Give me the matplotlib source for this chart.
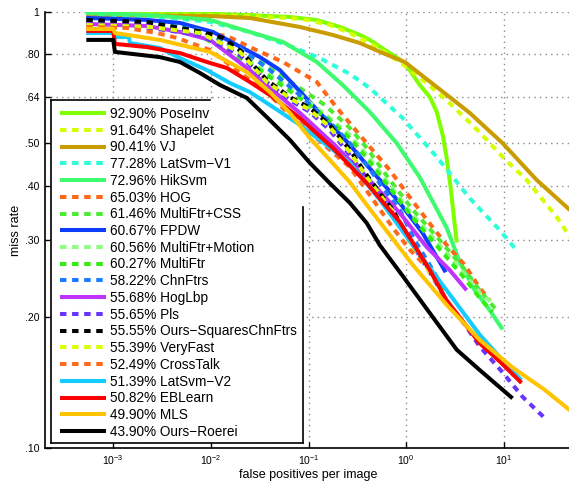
import matplotlib
matplotlib.use('Agg')
import matplotlib.pyplot as plt
from matplotlib.ticker import NullLocator, FixedLocator, FixedFormatter
from matplotlib.patches import Rectangle
from matplotlib.lines import Line2D

plt.rcParams['font.family'] = ['Liberation Sans', 'DejaVu Sans']
plt.rcParams['mathtext.fontset'] = 'custom'
plt.rcParams['mathtext.rm'] = 'Liberation Sans'
plt.rcParams['mathtext.it'] = 'Liberation Sans'
plt.rcParams['mathtext.bf'] = 'Liberation Sans'

# ---------------- data (fppi, miss rate) ----------------
poseinv_x = [5.3e-4, 9.8e-3, 0.025, 0.064, 0.12, 0.21, 0.335, 0.424, 0.68, 0.97, 1.38, 1.75, 2.06, 2.37, 2.6, 2.86, 3.07, 3.3]
poseinv_y = [0.995, 0.99, 0.984, 0.974, 0.959, 0.924, 0.886, 0.863, 0.805, 0.764, 0.68, 0.638, 0.59, 0.522, 0.463, 0.395, 0.342, 0.296]

shapelet_x = [5.3e-4, 9.8e-3, 0.025, 0.064, 0.096, 0.165, 0.265, 0.424, 0.577, 0.861, 1.625, 2.79, 5.66, 9.75, 17.1, 34.8, 50]
shapelet_y = [0.99, 0.984, 0.979, 0.969, 0.959, 0.934, 0.895, 0.849, 0.814, 0.768, 0.687, 0.618, 0.53, 0.465, 0.412, 0.339, 0.30]

vj_x = [5.3e-4, 9.8e-3, 0.025, 0.0815, 0.177, 0.335, 0.577, 0.968, 2.06, 4.48, 9.75, 21.7, 50]
vj_y = [0.984, 0.979, 0.969, 0.924, 0.886, 0.849, 0.805, 0.768, 0.673, 0.587, 0.50, 0.412, 0.348]

latsvm1_x = [5.3e-4, 2.38e-3, 9.8e-3, 0.025, 0.069, 0.13, 0.265, 0.424, 0.923, 2.06, 4.48, 9.08, 13.9]
latsvm1_y = [0.99, 0.979, 0.949, 0.90, 0.831, 0.784, 0.721, 0.669, 0.571, 0.465, 0.374, 0.316, 0.282]

hiksvm_x = [5.3e-4, 2.38e-3, 9.8e-3, 0.025, 0.0546, 0.1216, 0.224, 0.424, 0.802, 1.377, 2.60, 3.54, 5.04, 7.18, 9.75]
hiksvm_y = [0.995, 0.984, 0.959, 0.90, 0.854, 0.768, 0.68, 0.59, 0.50, 0.418, 0.32, 0.267, 0.23, 0.207, 0.187]

hog_x = [5.3e-4, 1.48e-3, 4.82e-3, 0.0146, 0.025, 0.0546, 0.1216, 0.195, 0.395, 0.679, 1.089, 1.625, 2.60, 3.98, 5.66, 7.18]
hog_y = [0.974, 0.949, 0.909, 0.881, 0.831, 0.768, 0.691, 0.603, 0.50, 0.434, 0.376, 0.334, 0.292, 0.263, 0.233, 0.218]

mfcss_x = [5.3e-4, 1.48e-3, 3.0e-3, 7.7e-3, 0.0157, 0.0318, 0.0815, 0.147, 0.265, 0.395, 0.679, 1.169, 2.06, 3.80, 5.66, 8.45]
mfcss_y = [0.964, 0.964, 0.949, 0.909, 0.84, 0.768, 0.669, 0.612, 0.542, 0.488, 0.412, 0.352, 0.305, 0.26, 0.23, 0.207]

fpdw_x = [5.3e-4, 2.21e-3, 4.82e-3, 0.0105, 0.0185, 0.0318, 0.0508, 0.0759, 0.103, 0.177, 0.265, 0.395, 0.861, 1.479, 2.21, 2.54]
fpdw_y = [0.969, 0.959, 0.944, 0.90, 0.84, 0.788, 0.736, 0.669, 0.622, 0.545, 0.496, 0.446, 0.365, 0.311, 0.267, 0.253]

mfmot_x = [5.3e-4, 3.0e-3, 7.7e-3, 0.0157, 0.0318, 0.0815, 0.165, 0.265, 0.395, 0.679, 1.169, 2.06, 3.80, 5.66, 8.07]
mfmot_y = [0.949, 0.934, 0.886, 0.818, 0.744, 0.645, 0.571, 0.522, 0.47, 0.401, 0.342, 0.297, 0.253, 0.227, 0.213]

mf_x = [5.3e-4, 3.0e-3, 7.7e-3, 0.0157, 0.0318, 0.0815, 0.165, 0.265, 0.395, 0.679, 1.169, 2.06, 3.80, 5.66, 7.69]
mf_y = [0.949, 0.929, 0.881, 0.81, 0.736, 0.635, 0.565, 0.514, 0.463, 0.395, 0.337, 0.291, 0.248, 0.221, 0.205]

chnftrs_x = [5.3e-4, 2.38e-3, 7.7e-3, 0.0198, 0.0402, 0.0815, 0.165, 0.265, 0.395, 0.577, 0.861, 1.22, 1.745, 2.48]
chnftrs_y = [0.954, 0.944, 0.909, 0.827, 0.736, 0.645, 0.559, 0.50, 0.446, 0.395, 0.352, 0.30, 0.263, 0.23]

hoglbp_x = [5.3e-4, 2.21e-3, 4.82e-3, 9.8e-3, 0.025, 0.0402, 0.0815, 0.177, 0.395, 0.861, 1.625, 2.79, 4.17]
hoglbp_y = [0.939, 0.929, 0.90, 0.863, 0.736, 0.669, 0.587, 0.50, 0.418, 0.346, 0.289, 0.256, 0.23]

pls_x = [5.3e-4, 2.38e-3, 7.7e-3, 0.0198, 0.0374, 0.0644, 0.103, 0.165, 0.265, 0.395, 0.73, 1.169, 1.745, 2.60, 3.98, 5.66, 9.75, 15.6, 27.5]
pls_y = [0.934, 0.919, 0.886, 0.797, 0.691, 0.628, 0.59, 0.536, 0.47, 0.416, 0.346, 0.292, 0.253, 0.218, 0.192, 0.171, 0.149, 0.131, 0.116]

ourssq_x = [5.3e-4, 2.21e-3, 4.82e-3, 8.3e-3, 0.0133, 0.0198, 0.0374, 0.0644, 0.103, 0.165, 0.265, 0.395, 0.577, 0.73, 1.089, 1.745, 2.37]
ourssq_y = [0.959, 0.949, 0.919, 0.90, 0.872, 0.818, 0.698, 0.638, 0.603, 0.551, 0.483, 0.423, 0.376, 0.352, 0.30, 0.256, 0.23]

veryfast_x = [5.3e-4, 2.38e-3, 7.7e-3, 0.0198, 0.0374, 0.0644, 0.103, 0.165, 0.265, 0.395, 0.73, 1.089, 1.745, 2.37]
veryfast_y = [0.934, 0.924, 0.895, 0.81, 0.691, 0.635, 0.596, 0.545, 0.477, 0.418, 0.348, 0.297, 0.253, 0.228]

crosstalk_x = [5.3e-4, 1.38e-3, 2.8e-3, 4.49e-3, 9.8e-3, 0.025, 0.0402, 0.0644, 0.103, 0.165, 0.265, 0.50, 0.73, 1.089, 1.55]
crosstalk_y = [0.924, 0.919, 0.895, 0.872, 0.818, 0.698, 0.645, 0.58, 0.53, 0.483, 0.441, 0.361, 0.32, 0.285, 0.263]

latsvm2_x = [5.3e-4, 1.0e-3, 1.04e-3, 1.45e-3, 1.48e-3, 3.0e-3, 4.82e-3, 9.1e-3, 0.0157, 0.0251, 0.0402, 0.0815, 0.177, 0.265, 0.537, 1.169, 2.60, 5.66, 12.3, 15.2]
latsvm2_y = [0.895, 0.895, 0.876, 0.876, 0.849, 0.827, 0.784, 0.736, 0.687, 0.655, 0.612, 0.551, 0.483, 0.451, 0.371, 0.292, 0.23, 0.182, 0.15, 0.143]

eblearn_x = [5.3e-4, 1.0e-3, 1.04e-3, 2.21e-3, 4.82e-3, 9.1e-3, 0.0146, 0.0251, 0.0402, 0.0815, 0.177, 0.395, 0.861, 1.169, 1.745, 2.60, 5.66, 9.08, 15.2]
eblearn_y = [0.905, 0.905, 0.845, 0.831, 0.805, 0.768, 0.744, 0.691, 0.645, 0.571, 0.488, 0.405, 0.33, 0.296, 0.256, 0.218, 0.174, 0.158, 0.141]

mls_x = [5.3e-4, 1.0e-3, 1.04e-3, 3.0e-3, 9.8e-3, 0.0234, 0.0402, 0.0644, 0.103, 0.165, 0.265, 0.395, 0.537, 1.169, 2.60, 5.66, 12.3, 26.2, 50]
mls_y = [0.914, 0.914, 0.895, 0.863, 0.81, 0.728, 0.655, 0.587, 0.514, 0.458, 0.407, 0.361, 0.33, 0.263, 0.213, 0.177, 0.153, 0.136, 0.121]

roerei_x = [5.3e-4, 1.0e-3, 1.04e-3, 3.0e-3, 4.82e-3, 7.7e-3, 0.0124, 0.0234, 0.0402, 0.0644, 0.103, 0.165, 0.265, 0.395, 0.537, 0.923, 1.745, 3.30, 5.66, 12.3]
roerei_y = [0.863, 0.863, 0.81, 0.788, 0.768, 0.725, 0.68, 0.635, 0.565, 0.509, 0.451, 0.405, 0.365, 0.328, 0.292, 0.248, 0.204, 0.168, 0.151, 0.13]

labels = ['92.90% PoseInv', '91.64% Shapelet', '90.41% VJ', '77.28% LatSvm\u2212V1',
          '72.96% HikSvm', '65.03% HOG', '61.46% MultiFtr+CSS', '60.67% FPDW',
          '60.56% MultiFtr+Motion', '60.27% MultiFtr', '58.22% ChnFtrs', '55.68% HogLbp',
          '55.65% Pls', '55.55% Ours\u2212SquaresChnFtrs', '55.39% VeryFast',
          '52.49% CrossTalk', '51.39% LatSvm\u2212V2', '50.82% EBLearn', '49.90% MLS',
          '43.90% Ours\u2212Roerei']
xs = [poseinv_x, shapelet_x, vj_x, latsvm1_x, hiksvm_x, hog_x, mfcss_x, fpdw_x,
      mfmot_x, mf_x, chnftrs_x, hoglbp_x, pls_x, ourssq_x, veryfast_x,
      crosstalk_x, latsvm2_x, eblearn_x, mls_x, roerei_x]
ys = [poseinv_y, shapelet_y, vj_y, latsvm1_y, hiksvm_y, hog_y, mfcss_y, fpdw_y,
      mfmot_y, mf_y, chnftrs_y, hoglbp_y, pls_y, ourssq_y, veryfast_y,
      crosstalk_y, latsvm2_y, eblearn_y, mls_y, roerei_y]
colors = ['#80FF00', '#D5FF00', '#C99C00', '#2EFFD8', '#3DFA6E', '#FF6619', '#4DEA33', '#0D3CFF',
          '#8CFF80', '#33EE11', '#1E7BFF', '#BF33FF', '#6A33FF', '#000000', '#DCFF00',
          '#FF6A1E', '#14CCFF', '#FF0000', '#FFC300', '#000000']
dashed = [False, True, False, True, False, True, True, False, True, True, True, False,
          True, True, True, True, False, False, False, False]

ytick_vals = [0.10, 0.20, 0.30, 0.40, 0.50, 0.64, 0.80, 1.0]
ytick_labels = ['.10', '.20', '.30', '.40', '.50', '.64', '.80', '1']

# ---------------- figure ----------------
W, H = 569, 482
fig = plt.figure(figsize=(W / 100, H / 100), dpi=100)
ax = fig.add_axes([45 / W, (H - 448) / H, 527 / W, 436 / H])
ax.set_xscale('log')
ax.set_yscale('log')
ax.set_xlim(2e-4, 50)
ax.set_ylim(0.1, 1.0)

LW = 2.9
DASH = (0, (1.6, 1.4))
handles = []
for i, (lab, x, y, c, d) in enumerate(zip(labels, xs, ys, colors, dashed)):
    ls = DASH if d else '-'
    ln, = ax.plot(x, y, color=c, lw=LW, linestyle=ls, label=lab, zorder=3 + i * 0.01,
                  solid_capstyle='butt', dash_capstyle='butt')
    handles.append(ln)

# axes styling
for s in ['top', 'right']:
    ax.spines[s].set_visible(False)
for s in ['left', 'bottom']:
    ax.spines[s].set_linewidth(1.2)
ax.yaxis.set_major_locator(FixedLocator(ytick_vals))
ax.yaxis.set_major_formatter(FixedFormatter(ytick_labels))
ax.yaxis.set_minor_locator(NullLocator())
ax.xaxis.set_minor_locator(NullLocator())
ax.tick_params(axis='both', which='major', direction='in', length=4, width=1,
               labelsize=7.5, pad=4)
ax.grid(True, which='major', color='#8a8a8a', linestyle=(0, (1, 3)), linewidth=1.0)
ax.set_axisbelow(True)

ax.set_xlabel('false positives per image', fontsize=9, labelpad=1)
ax.set_ylabel('miss rate', fontsize=9, labelpad=2)

# legend background + frame (axes fraction coords)
lx0, lx1 = 6 / 527, 258 / 527
ly0, ly1 = 5 / 436, 348 / 436
ax.add_patch(Rectangle((lx0, ly0), lx1 - lx0, ly1 - ly0, transform=ax.transAxes,
                       facecolor='white', edgecolor='none', zorder=2))
fr = dict(transform=ax.transAxes, color='black', lw=1.2, zorder=2.5, clip_on=False)
ax.add_line(Line2D([lx0, lx0], [ly0, ly1], **fr))
ax.add_line(Line2D([lx0, lx1], [ly0, ly0], **fr))
ax.add_line(Line2D([lx0, 165 / 527], [ly1, ly1], **fr))
ax.add_line(Line2D([lx1, lx1], [ly0, 241 / 436], **fr))

leg = ax.legend(handles=handles, loc='upper left', bbox_to_anchor=(15 / 527, 341 / 436),
                frameon=False, fontsize=9.8, handlelength=3.35, handletextpad=0.36,
                labelspacing=0.2, borderpad=0.0, borderaxespad=0.0)
leg.set_zorder(10)

fig.savefig('out.png', dpi=100)
